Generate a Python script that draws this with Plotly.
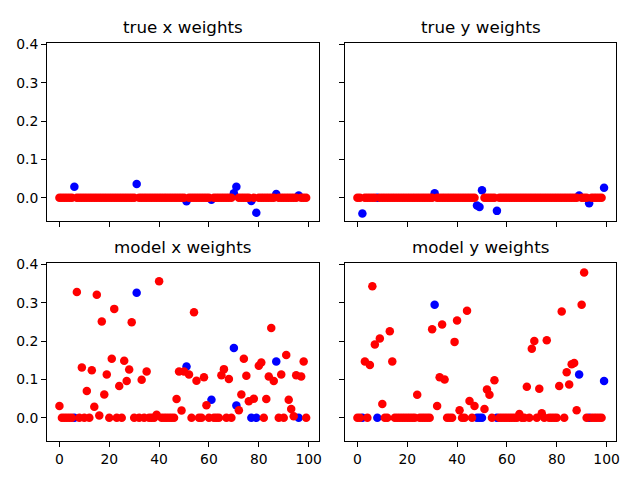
import plotly.graph_objects as go

# ---- data ----
n_features = 100
indices = list(range(n_features))

true_x_support = [6, 31, 51, 61, 70, 71, 77, 79, 87, 96]
true_x_values = [0.029, 0.036, -0.009, -0.005, 0.012, 0.029, -0.008, -0.039, 0.010, 0.006]

true_y_support = [2, 8, 31, 48, 49, 50, 56, 89, 93, 99]
true_y_values = [-0.041, 0.0, 0.012, -0.020, -0.024, 0.020, -0.034, 0.006, -0.014, 0.026]

model_x = [
    0.031, 0, 0, 0, 0, 0, 0, 0.328, 0, 0.131,
    0, 0.070, 0, 0.124, 0.029, 0.321, 0.006, 0.251, 0.061, 0.113,
    0, 0.154, 0.284, 0, 0.083, 0, 0.149, 0.096, 0.126, 0.249,
    0, 0.326, 0, 0.099, 0, 0.121, 0, 0, 0, 0.008,
    0.356, 0, 0, 0, 0, 0, 0, 0.049, 0.121, 0.019,
    0.121, 0.134, 0.113, 0, 0.275, 0.097, 0, 0, 0.106, 0.033,
    0, 0.047, 0, 0, 0, 0.111, 0.127, 0, 0.101, 0,
    0.182, 0.032, 0.020, 0.061, 0.154, 0.110, 0.043, 0, 0.050, 0,
    0.136, 0.144, 0, 0.049, 0.108, 0.234, 0.096, 0.147, 0, 0.113,
    0, 0.164, 0.047, 0.023, 0.004, 0.111, 0, 0.108, 0.147, 0,
]

model_y = [
    0, 0, 0, 0.147, 0, 0.138, 0.343, 0.191, 0, 0.207,
    0.036, 0, 0, 0.226, 0.147, 0, 0, 0, 0, 0,
    0, 0, 0, 0, 0.060, 0, 0, 0, 0, 0,
    0.231, 0.295, 0.031, 0.106, 0.243, 0.100, 0, 0, 0, 0.198,
    0.254, 0.020, 0, 0, 0.279, 0.044, 0, 0.031, 0, 0,
    0, 0.023, 0.074, 0.060, 0, 0.098, 0, 0, 0, 0,
    0, 0, 0, 0, 0, 0.010, 0, 0, 0.081, 0,
    0.180, 0.200, 0, 0.076, 0.012, 0, 0.202, 0, 0, 0,
    0, 0.083, 0.277, 0, 0.119, 0.087, 0.140, 0.143, 0.020, 0.113,
    0.295, 0.379, 0, 0, 0, 0, 0, 0, 0, 0.096,
]

titles = ["true x weights", "true y weights", "model x weights", "model y weights"]
x_ticks = [0, 20, 40, 60, 80, 100]
y_ticks = [0.0, 0.1, 0.2, 0.3, 0.4]


def full(support, values):
    arr = [0.0] * n_features
    for i, v in zip(support, values):
        arr[i] = v
    return arr


true_x = full(true_x_support, true_x_values)
true_y = full(true_y_support, true_y_values)

panels = [
    (true_x, true_x_support),
    (true_y, true_y_support),
    (model_x, true_x_support),
    (model_y, true_y_support),
]

# ---- figure ----
fig = go.Figure()
W, H = 640, 480
xdom = [[47.3 / W, 320 / W], [346.7 / W, 619.3 / W]]
ydom = [[1 - 217.4 / H, 1 - 36.8 / H], [1 - 440.7 / H, 1 - 260 / H]]

BLUE = "#0000ff"
RED = "#ff0000"
FONT = "DejaVu Sans"

for k, (vals, support) in enumerate(panels):
    row, col = divmod(k, 2)
    n = k + 1
    xa = "x" if n == 1 else f"x{n}"
    ya = "y" if n == 1 else f"y{n}"
    others = [i for i in indices if i not in support]
    fig.add_trace(go.Scatter(
        x=support, y=[vals[i] for i in support], mode="markers",
        marker=dict(color=BLUE, size=8.5, line=dict(width=0)),
        xaxis=xa, yaxis=ya, showlegend=False, hoverinfo="skip"))
    fig.add_trace(go.Scatter(
        x=others, y=[vals[i] for i in others], mode="markers",
        marker=dict(color=RED, size=8.5, line=dict(width=0)),
        xaxis=xa, yaxis=ya, showlegend=False, hoverinfo="skip"))

    common = dict(showline=True, linecolor="black", linewidth=1.1, mirror=True,
                  ticks="outside", ticklen=5, tickwidth=1.1, tickcolor="black",
                  showgrid=False, zeroline=False,
                  tickfont=dict(family=FONT, size=13.9, color="black"))
    xkey = "xaxis" if n == 1 else f"xaxis{n}"
    ykey = "yaxis" if n == 1 else f"yaxis{n}"
    fig.update_layout(**{
        xkey: dict(domain=xdom[col], anchor=ya, range=[-4.95, 103.95],
                   tickvals=x_ticks, ticktext=[str(t) for t in x_ticks],
                   showticklabels=(row == 1), **common),
        ykey: dict(domain=ydom[row], anchor=xa, range=[-0.061, 0.403],
                   tickvals=y_ticks, ticktext=[f"{t:.1f}" for t in y_ticks],
                   showticklabels=(col == 0), **common),
    })
    fig.add_annotation(
        text=titles[k], xref="paper", yref="paper",
        x=(xdom[col][0] + xdom[col][1]) / 2, y=ydom[row][1],
        xanchor="center", yanchor="bottom", yshift=4, showarrow=False,
        font=dict(family=FONT, size=16.7, color="black"))

fig.update_layout(width=W, height=H, margin=dict(l=0, r=0, t=0, b=0),
                  paper_bgcolor="white", plot_bgcolor="white")

fig.write_html("out.html")
